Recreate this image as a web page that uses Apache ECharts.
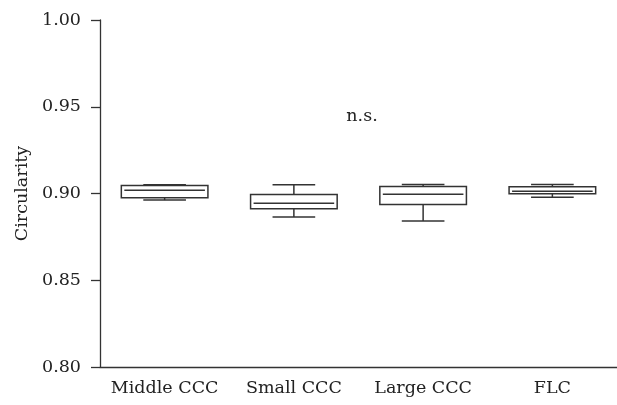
<!DOCTYPE html>
<html><head><meta charset="utf-8">
<script src="https://cdn.jsdelivr.net/npm/echarts@6/dist/echarts.min.js"></script>
<style>html,body{margin:0;padding:0;background:#fff}#c{width:617px;height:405px}</style>
</head><body><div id="c"></div>
<script>
var categories = ['Middle CCC', 'Small CCC', 'Large CCC', 'FLC'];
var mins    = [0.8962, 0.8864, 0.8841, 0.8979];
var q1s     = [0.8975, 0.8912, 0.8937, 0.8998];
var medians = [0.9019, 0.8944, 0.8996, 0.9013];
var q3s     = [0.9046, 0.8994, 0.9040, 0.9039];
var maxs    = [0.9050, 0.9050, 0.9052, 0.9052];
var yTicks  = [0.80, 0.85, 0.90, 0.95, 1.00];
var annotation = 'n.s.';

var boxData = categories.map(function (c, i) {
  return [i, mins[i], q1s[i], medians[i], q3s[i], maxs[i]];
});
var FONT = '"DejaVu Serif", "Liberation Serif", serif';
var chart = echarts.init(document.getElementById('c'));
chart.setOption({
  animation: false,
  grid: { left: 100, right: -2, top: 20, bottom: 38 },
  xAxis: {
    type: 'category', data: categories, boundaryGap: true,
    axisLine: { lineStyle: { color: '#333', width: 1.3 } },
    axisTick: { alignWithLabel: true, interval: 0, length: 9, lineStyle: { color: '#333', width: 1.3 } },
    axisLabel: { interval: 0, hideOverlap: false, fontFamily: FONT, fontSize: 17.5, color: '#222', margin: 12 }
  },
  yAxis: {
    type: 'value', min: 0.80, max: 1.00, interval: 0.05,
    name: 'Circularity', nameLocation: 'middle', nameGap: 66,
    nameTextStyle: { fontFamily: FONT, fontSize: 17.5, color: '#222' },
    axisLine: { show: true, lineStyle: { color: '#333', width: 1.3 } },
    axisTick: { show: true, length: 9, lineStyle: { color: '#333', width: 1.3 } },
    axisLabel: { fontFamily: FONT, fontSize: 17.5, color: '#222', margin: 19,
      formatter: function (v) { return v.toFixed(2); } },
    splitLine: { show: false }
  },
  series: [{
    type: 'custom',
    data: boxData,
    renderItem: function (params, api) {
      var x = api.value(0);
      var band = api.size([1, 0])[0];
      var bw = band * 0.67, cw = band * 0.33;
      var pMin = api.coord([x, api.value(1)]);
      var pQ1 = api.coord([x, api.value(2)]);
      var pMed = api.coord([x, api.value(3)]);
      var pQ3 = api.coord([x, api.value(4)]);
      var pMax = api.coord([x, api.value(5)]);
      var cx = pMed[0];
      var st = { stroke: '#333', lineWidth: 1.5, fill: null };
      return {
        type: 'group',
        children: [
          { type: 'line', shape: { x1: cx, y1: pMax[1], x2: cx, y2: pQ3[1] }, style: st },
          { type: 'line', shape: { x1: cx, y1: pQ1[1], x2: cx, y2: pMin[1] }, style: st },
          { type: 'line', shape: { x1: cx - cw / 2, y1: pMax[1], x2: cx + cw / 2, y2: pMax[1] }, style: st },
          { type: 'line', shape: { x1: cx - cw / 2, y1: pMin[1], x2: cx + cw / 2, y2: pMin[1] }, style: st },
          { type: 'rect', shape: { x: cx - bw / 2, y: pQ3[1], width: bw, height: pQ1[1] - pQ3[1] },
            style: { stroke: '#333', lineWidth: 1.5, fill: '#fff' } },
          { type: 'line', shape: { x1: cx - bw / 2 + 3, y1: pMed[1], x2: cx + bw / 2 - 3, y2: pMed[1] }, style: st }
        ]
      };
    }
  }],
  graphic: [{
    type: 'text', x: 362, y: 116,
    style: { text: annotation, font: '17.5px ' + FONT, fill: '#222', align: 'center', verticalAlign: 'middle' }
  }]
});
</script></body></html>
